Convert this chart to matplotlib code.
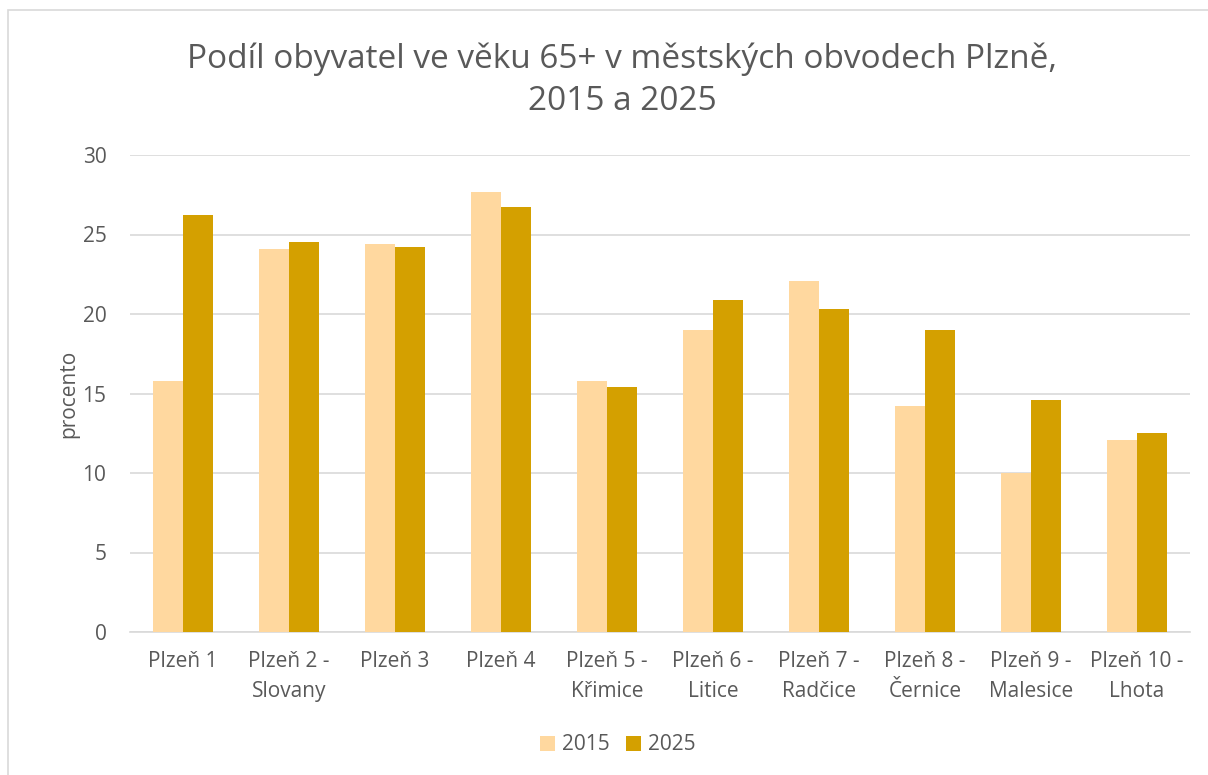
import numpy as np
import matplotlib.pyplot as plt
from matplotlib.patches import Rectangle

plt.rcParams['font.family'] = ['Open Sans', 'DejaVu Sans']

# Data
obvody = ['Plzeň 1', 'Plzeň 2 -\nSlovany', 'Plzeň 3', 'Plzeň 4', 'Plzeň 5 -\nKřimice',
          'Plzeň 6 -\nLitice', 'Plzeň 7 -\nRadčice', 'Plzeň 8 -\nČernice',
          'Plzeň 9 -\nMalesice', 'Plzeň 10 -\nLhota']
podil_2015 = [15.8, 24.1, 24.4, 27.7, 15.8, 19.0, 22.1, 14.2, 10.0, 12.1]
podil_2025 = [26.2, 24.5, 24.2, 26.7, 15.4, 20.9, 20.3, 19.0, 14.6, 12.5]
yticks = [0, 5, 10, 15, 20, 25, 30]

text_color = '#595959'
grid_color = '#D9D9D9'

fig = plt.figure(figsize=(12.08, 7.75), dpi=100)
ax = fig.add_axes([130 / 1208, 1 - 632 / 775, 1060 / 1208, 477 / 775])

# outer chart frame
fig.patches.append(Rectangle((8 / 1208, -0.01), 1.1, 1 - 10 / 775 + 0.01,
                             transform=fig.transFigure, fill=False,
                             edgecolor=grid_color, linewidth=1.2))

x = np.arange(len(obvody))
w = 0.283
ax.bar(x - w / 2, podil_2015, w, color='#FFD89F', label='2015', zorder=3)
ax.bar(x + w / 2, podil_2025, w, color='#D4A000', label='2025', zorder=3)

ax.set_xlim(-0.5, len(obvody) - 0.5)
ax.set_ylim(0, 30)
ax.set_yticks(yticks)
ax.yaxis.grid(True, color=grid_color, linewidth=1.2, zorder=0)
ax.set_axisbelow(True)
for s in ['top', 'right', 'left']:
    ax.spines[s].set_visible(False)
ax.spines['bottom'].set_color(grid_color)
ax.spines['bottom'].set_linewidth(1.2)
ax.tick_params(axis='both', length=0, colors=text_color, labelsize=15)
ax.tick_params(axis='y', pad=17)
ax.tick_params(axis='x', pad=14)
ax.set_xticks(x)
ax.set_xticklabels(obvody, linespacing=1.55)

ax.set_ylabel('procento', fontsize=15, color=text_color, labelpad=2)

fig.text(622 / 1208, 1 - 80 / 775, 'Podíl obyvatel ve věku 65+ v městských obvodech Plzně,\n2015 a 2025',
         ha='center', va='center', fontsize=24, color=text_color, linespacing=1.35)

ax.legend(loc='center', bbox_to_anchor=(618 / 1208, 1 - 745 / 775), bbox_transform=fig.transFigure,
          ncol=2, frameon=False, fontsize=15, labelcolor=text_color,
          handlelength=0.7, handleheight=0.7, handletextpad=0.35, columnspacing=0.8)

fig.savefig('out.png', dpi=100)
